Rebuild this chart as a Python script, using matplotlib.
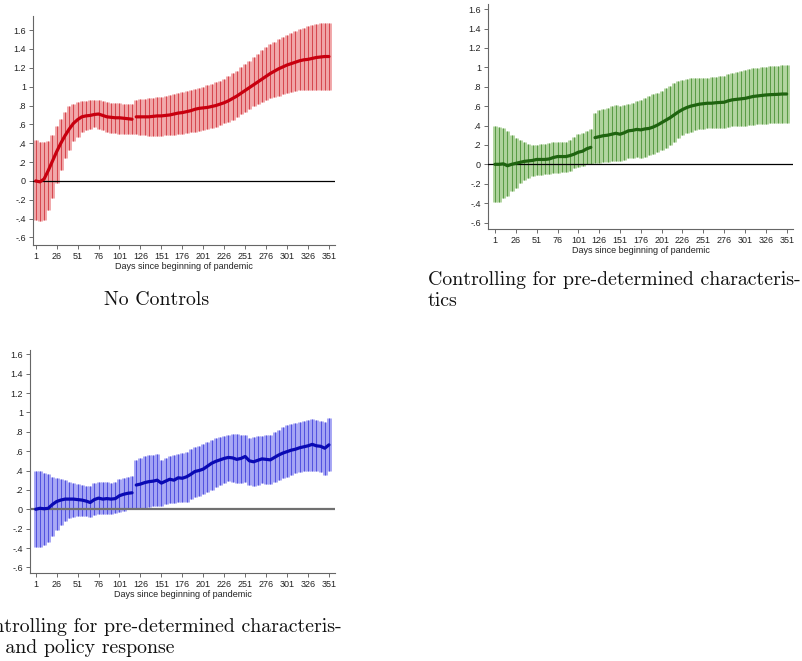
import numpy as np
import matplotlib
matplotlib.use('Agg')
import matplotlib.pyplot as plt

# event-study estimates, read every 5 days (day 1, 6, ..., 351)
days = np.arange(1, 352, 5)
split_day = 116   # sample changes after this day, line is broken there

x_ticks = [1, 26, 51, 76, 101, 126, 151, 176, 201, 226, 251, 276, 301, 326, 351]
y_ticks = [-0.6, -0.4, -0.2, 0, 0.2, 0.4, 0.6, 0.8, 1, 1.2, 1.4, 1.6]
y_labels = ['-.6', '-.4', '-.2', '0', '.2', '.4', '.6', '.8', '1', '1.2', '1.4', '1.6']
x_title = 'Days since beginning of pandemic'

captions = ['No Controls',
            'Controlling for pre-determined characteris-\ntics',
            'Controlling for pre-determined characteris-\ntics and policy response']

# no controls
red_b = [0.00, -0.01, 0.02, 0.11, 0.21, 0.31, 0.40, 0.48, 0.55, 0.61, 0.65, 0.68,
         0.69, 0.695, 0.705, 0.71, 0.695, 0.68, 0.675, 0.67, 0.67, 0.665, 0.66, 0.655,
         0.68, 0.68, 0.68, 0.68, 0.685, 0.69, 0.69, 0.695, 0.70, 0.71, 0.72, 0.725,
         0.735, 0.745, 0.76, 0.77, 0.775, 0.78, 0.79, 0.80, 0.815, 0.83, 0.85, 0.875,
         0.90, 0.93, 0.96, 0.99, 1.02, 1.05, 1.08, 1.11, 1.14, 1.165, 1.19, 1.21,
         1.23, 1.245, 1.26, 1.275, 1.285, 1.29, 1.30, 1.31, 1.315, 1.32, 1.32]
red_hi = [0.435, 0.41, 0.41, 0.42, 0.49, 0.58, 0.66, 0.73, 0.79, 0.82, 0.835, 0.85,
          0.85, 0.855, 0.86, 0.86, 0.85, 0.84, 0.83, 0.825, 0.825, 0.82, 0.82, 0.815,
          0.86, 0.865, 0.87, 0.88, 0.885, 0.89, 0.895, 0.90, 0.91, 0.92, 0.93, 0.94,
          0.95, 0.97, 0.98, 0.99, 1.00, 1.015, 1.03, 1.05, 1.065, 1.085, 1.11, 1.14,
          1.17, 1.205, 1.24, 1.275, 1.31, 1.35, 1.39, 1.425, 1.45, 1.475, 1.505, 1.53,
          1.55, 1.57, 1.59, 1.61, 1.625, 1.64, 1.655, 1.665, 1.675, 1.68, 1.68]
red_lo = [-0.42, -0.43, -0.42, -0.31, -0.18, -0.02, 0.12, 0.24, 0.33, 0.42, 0.47, 0.52,
          0.54, 0.555, 0.57, 0.555, 0.54, 0.52, 0.51, 0.505, 0.50, 0.495, 0.50, 0.50,
          0.495, 0.49, 0.485, 0.48, 0.48, 0.48, 0.48, 0.485, 0.49, 0.49, 0.495, 0.50,
          0.505, 0.515, 0.52, 0.53, 0.54, 0.55, 0.56, 0.575, 0.59, 0.61, 0.63, 0.65,
          0.675, 0.705, 0.73, 0.76, 0.79, 0.815, 0.84, 0.86, 0.875, 0.89, 0.905, 0.92,
          0.935, 0.945, 0.955, 0.965, 0.97, 0.97, 0.97, 0.965, 0.965, 0.965, 0.965]

# pre-determined characteristics
grn_b = [0.00, 0.00, 0.005, -0.015, 0.00, 0.01, 0.02, 0.03, 0.035, 0.04, 0.05, 0.05,
         0.05, 0.055, 0.07, 0.08, 0.08, 0.08, 0.09, 0.105, 0.125, 0.135, 0.16, 0.175,
         0.275, 0.285, 0.295, 0.30, 0.31, 0.32, 0.31, 0.325, 0.345, 0.35, 0.36, 0.355,
         0.365, 0.37, 0.385, 0.405, 0.43, 0.455, 0.48, 0.51, 0.54, 0.565, 0.585, 0.60,
         0.61, 0.62, 0.625, 0.63, 0.63, 0.635, 0.638, 0.64, 0.655, 0.665, 0.67, 0.675,
         0.68, 0.69, 0.70, 0.705, 0.71, 0.715, 0.718, 0.72, 0.722, 0.725, 0.725]
grn_hi = [0.39, 0.38, 0.37, 0.34, 0.30, 0.275, 0.25, 0.235, 0.21, 0.20, 0.20, 0.205,
          0.205, 0.215, 0.235, 0.235, 0.235, 0.23, 0.25, 0.285, 0.31, 0.325, 0.345, 0.36,
          0.53, 0.56, 0.575, 0.585, 0.60, 0.61, 0.60, 0.61, 0.62, 0.635, 0.65, 0.66,
          0.68, 0.70, 0.72, 0.74, 0.76, 0.785, 0.81, 0.835, 0.855, 0.87, 0.88, 0.885,
          0.89, 0.895, 0.895, 0.895, 0.90, 0.905, 0.907, 0.91, 0.93, 0.945, 0.955, 0.965,
          0.97, 0.98, 0.99, 0.995, 1.00, 1.005, 1.01, 1.015, 1.017, 1.02, 1.025]
grn_lo = [-0.39, -0.385, -0.35, -0.33, -0.28, -0.24, -0.195, -0.16, -0.14, -0.125, -0.115, -0.11,
          -0.10, -0.10, -0.085, -0.085, -0.08, -0.075, -0.065, -0.04, -0.025, -0.015, 0.00, 0.005,
          0.01, 0.015, 0.02, 0.025, 0.03, 0.035, 0.03, 0.045, 0.06, 0.07, 0.08, 0.06,
          0.08, 0.095, 0.11, 0.13, 0.15, 0.17, 0.20, 0.235, 0.27, 0.30, 0.32, 0.335,
          0.35, 0.36, 0.365, 0.37, 0.37, 0.37, 0.372, 0.375, 0.385, 0.39, 0.39, 0.395,
          0.40, 0.405, 0.41, 0.415, 0.42, 0.42, 0.425, 0.43, 0.43, 0.43, 0.43]

# pre-determined characteristics and policy response
blu_b = [0.00, 0.01, 0.005, 0.01, 0.05, 0.08, 0.095, 0.105, 0.105, 0.105, 0.10, 0.095,
         0.085, 0.07, 0.10, 0.115, 0.105, 0.11, 0.105, 0.11, 0.14, 0.155, 0.165, 0.17,
         0.25, 0.26, 0.275, 0.285, 0.29, 0.30, 0.27, 0.29, 0.31, 0.30, 0.325, 0.32,
         0.335, 0.36, 0.39, 0.40, 0.415, 0.445, 0.475, 0.495, 0.51, 0.525, 0.535, 0.53,
         0.515, 0.525, 0.545, 0.50, 0.49, 0.505, 0.52, 0.515, 0.51, 0.535, 0.56, 0.58,
         0.595, 0.61, 0.62, 0.635, 0.645, 0.655, 0.67, 0.655, 0.65, 0.63, 0.665]
blu_hi = [0.395, 0.39, 0.37, 0.36, 0.335, 0.32, 0.31, 0.30, 0.285, 0.27, 0.26, 0.25,
          0.245, 0.235, 0.27, 0.28, 0.28, 0.285, 0.275, 0.285, 0.31, 0.32, 0.335, 0.345,
          0.51, 0.53, 0.55, 0.56, 0.565, 0.575, 0.51, 0.53, 0.545, 0.555, 0.575, 0.585,
          0.595, 0.62, 0.645, 0.655, 0.67, 0.69, 0.715, 0.735, 0.75, 0.76, 0.77, 0.775,
          0.78, 0.77, 0.765, 0.74, 0.75, 0.755, 0.76, 0.765, 0.77, 0.795, 0.82, 0.845,
          0.87, 0.885, 0.895, 0.905, 0.91, 0.92, 0.93, 0.92, 0.91, 0.905, 0.945]
blu_lo = [-0.39, -0.385, -0.37, -0.34, -0.28, -0.21, -0.16, -0.125, -0.095, -0.075, -0.065, -0.065,
          -0.07, -0.08, -0.06, -0.05, -0.05, -0.05, -0.05, -0.04, -0.025, -0.015, 0.00, 0.005,
          0.005, 0.01, 0.015, 0.025, 0.03, 0.035, 0.035, 0.05, 0.06, 0.06, 0.08, 0.07,
          0.08, 0.105, 0.13, 0.14, 0.155, 0.18, 0.20, 0.225, 0.25, 0.27, 0.29, 0.28,
          0.27, 0.275, 0.285, 0.25, 0.245, 0.255, 0.27, 0.265, 0.26, 0.28, 0.30, 0.32,
          0.335, 0.355, 0.37, 0.38, 0.39, 0.39, 0.395, 0.395, 0.38, 0.355, 0.39]

W, H = 803, 661
fig = plt.figure(figsize=(W / 100, H / 100), dpi=100)
plt.rcParams['font.family'] = ['Liberation Sans', 'DejaVu Sans']


def px_axes(left, top, right, bottom):
    return fig.add_axes([left / W, 1 - bottom / H, (right - left) / W, (bottom - top) / H])


def draw_panel(ax, b, lo, hi, light, dark, line, xlim, ylim, zero_color='black', zero_lw=0.9):
    b, lo, hi = np.array(b), np.array(lo), np.array(hi)
    # confidence interval spikes: wide light band plus a thin darker line
    ax.vlines(days, lo, hi, colors=light, linewidth=3.5, zorder=1)
    ax.vlines(days, lo, hi, colors=dark, linewidth=0.6, zorder=2)
    ax.axhline(0, color=zero_color, lw=zero_lw, zorder=3)
    pre = days <= split_day
    ax.plot(days[pre], b[pre], color=line, lw=2.3, zorder=4, solid_capstyle='round')
    ax.plot(days[~pre], b[~pre], color=line, lw=2.3, zorder=4, solid_capstyle='round')

    ax.set_xlim(*xlim)
    ax.set_ylim(*ylim)
    ax.set_xticks(x_ticks)
    ax.set_yticks(y_ticks)
    ax.set_yticklabels(y_labels)
    ax.set_xlabel(x_title, fontsize=6.5, labelpad=0.5, color='#222222')
    ax.tick_params(labelsize=6.5, length=3, width=0.6, pad=2, colors='#555555',
                   labelcolor='#222222')
    for side in ['top', 'right']:
        ax.spines[side].set_visible(False)
    for side in ['left', 'bottom']:
        ax.spines[side].set_color('#666666')
        ax.spines[side].set_linewidth(0.8)


ax1 = px_axes(33, 16, 335, 245)
draw_panel(ax1, red_b, red_lo, red_hi, '#f0a4a6', '#d2363f', '#c8000f',
           (-2.2, 358.2), (-0.68, 1.75))

ax2 = px_axes(488, 4, 793, 229)
draw_panel(ax2, grn_b, grn_lo, grn_hi, '#aed29c', '#4a9236', '#1f6410',
           (-7.4, 358.6), (-0.667, 1.653))

ax3 = px_axes(30, 350, 335, 573)
draw_panel(ax3, blu_b, blu_lo, blu_hi, '#a3a3f4', '#4444dc', '#0a0ab4',
           (-5.8, 358.2), (-0.658, 1.644), zero_color='#707070', zero_lw=1.6)

# captions underneath each panel
cap_font = dict(family='cmr10', fontsize=14.3, color='#111111', va='center',
                linespacing=1.2)
fig.text(157 / W, 1 - 300 / H, captions[0], ha='center', **cap_font)
fig.text(428 / W, 1 - 290.5 / H, captions[1], ha='left', **cap_font)
fig.text(-31 / W, 1 - 637.5 / H, captions[2], ha='left', **cap_font)

fig.savefig('out.png', dpi=100)
